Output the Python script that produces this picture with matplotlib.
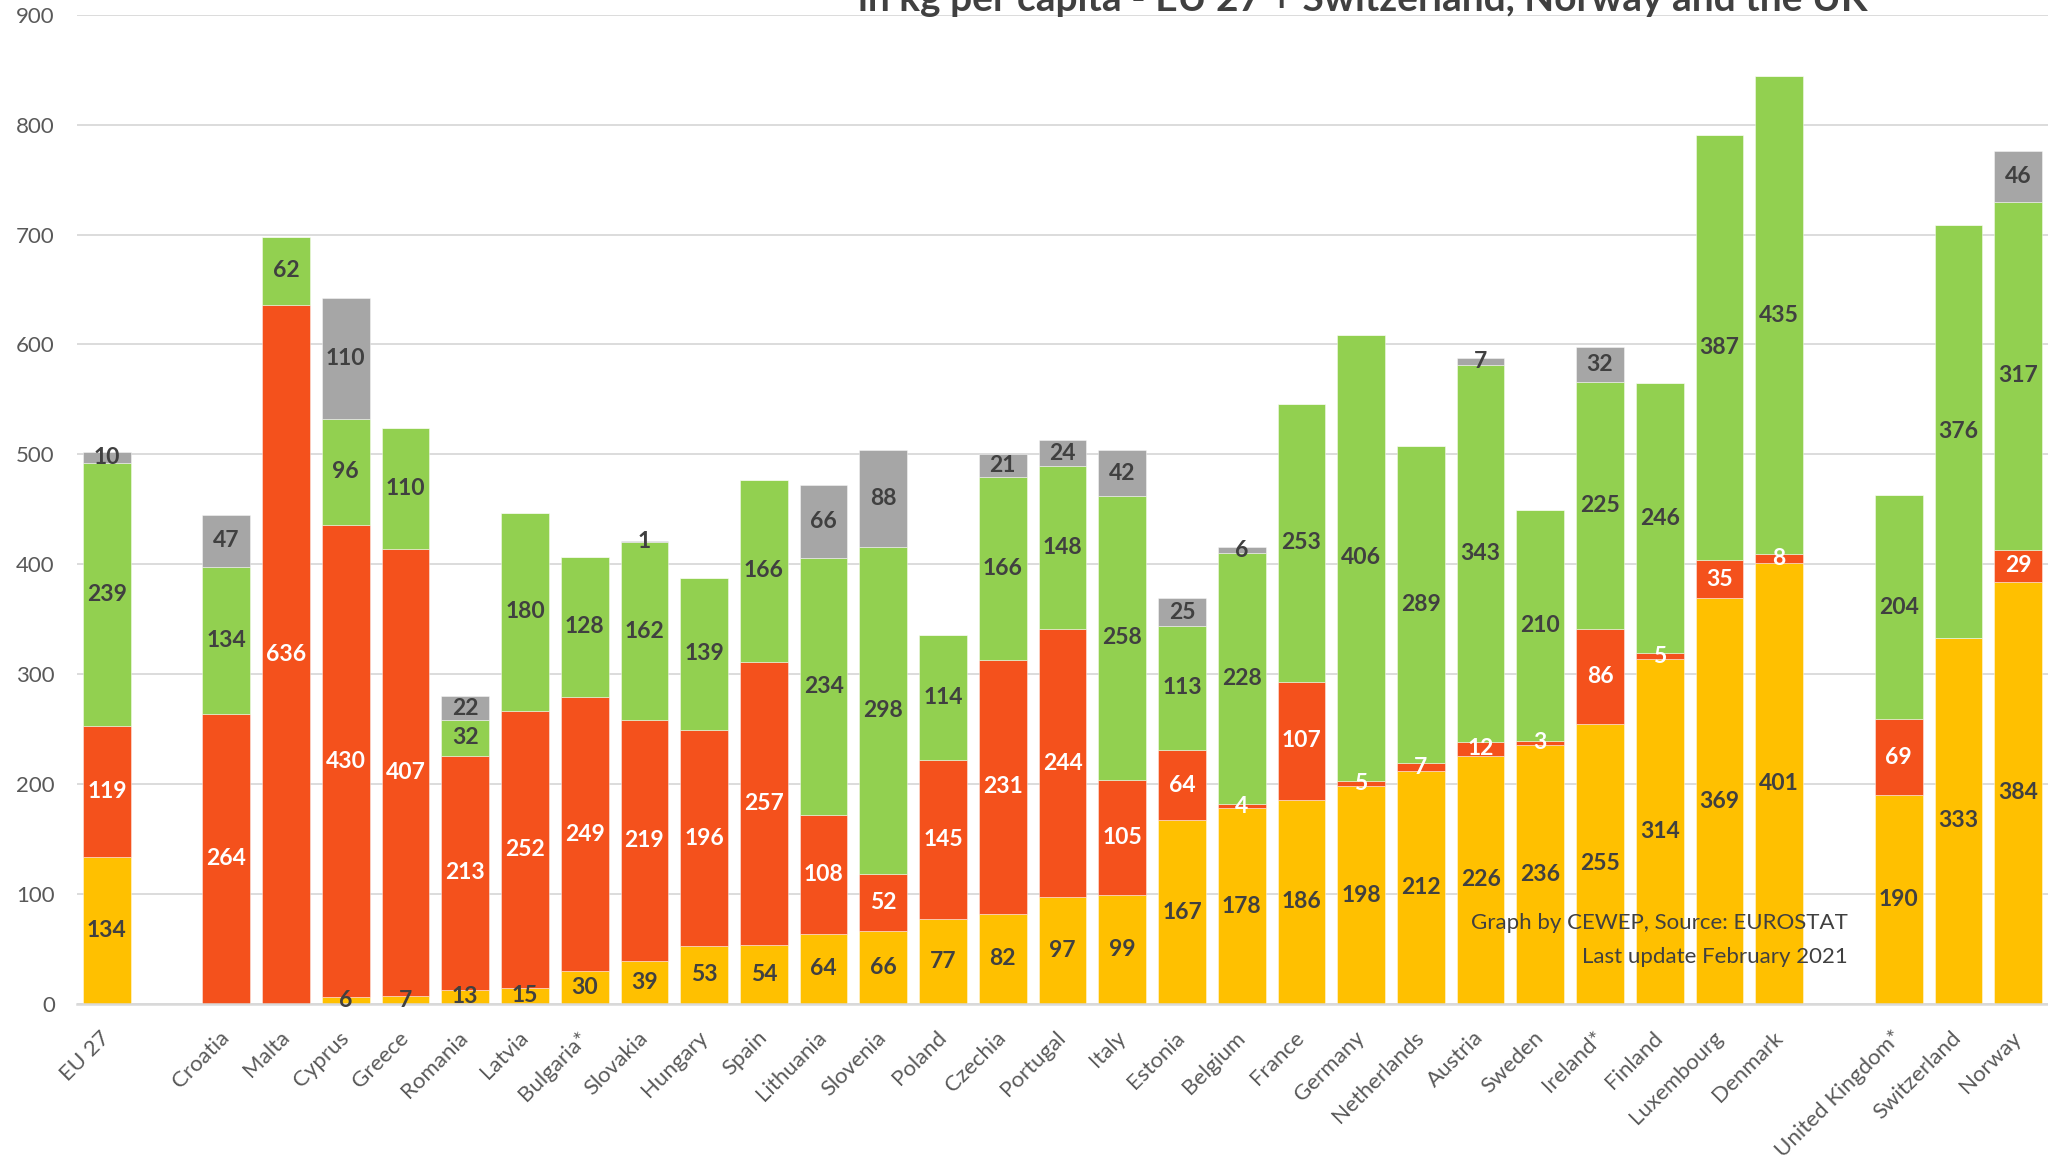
import numpy as np
import matplotlib
matplotlib.use("Agg")
import matplotlib.pyplot as plt

# municipal waste treatment, kg per capita (blank slots separate the groups)
countries = ["EU 27", "", "Croatia", "Malta", "Cyprus", "Greece", "Romania", "Latvia",
             "Bulgaria*", "Slovakia", "Hungary", "Spain", "Lithuania", "Slovenia", "Poland",
             "Czechia", "Portugal", "Italy", "Estonia", "Belgium", "France", "Germany",
             "Netherlands", "Austria", "Sweden", "Ireland*", "Finland", "Luxembourg",
             "Denmark", "", "United Kingdom*", "Switzerland", "Norway"]

recycled = [134, 0, 0, 0, 6, 7, 13, 15, 30, 39, 53, 54, 64, 66, 77, 82, 97, 99, 167, 178,
            186, 198, 212, 226, 236, 255, 314, 369, 401, 0, 190, 333, 384]
landfilled = [119, 0, 264, 636, 430, 407, 213, 252, 249, 219, 196, 257, 108, 52, 145, 231,
              244, 105, 64, 4, 107, 5, 7, 12, 3, 86, 5, 35, 8, 0, 69, 0, 29]
incinerated = [239, 0, 134, 62, 96, 110, 32, 180, 128, 162, 139, 166, 234, 298, 114, 166,
               148, 258, 113, 228, 253, 406, 289, 343, 210, 225, 246, 387, 435, 0, 204, 376, 317]
other = [10, 0, 47, 0, 110, 0, 22, 0, 0, 1, 0, 0, 66, 88, 0, 21, 24, 42, 25, 6, 0, 0, 0,
         7, 0, 32, 0, 0, 0, 0, 0, 0, 46]

series = [
    (recycled, "#FFC000", "#404040"),
    (landfilled, "#F4511C", "white"),
    (incinerated, "#92D050", "#404040"),
    (other, "#A6A6A6", "#404040"),
]

FONT = ["Lato", "DejaVu Sans"]
plt.rcParams["font.family"] = FONT

fig = plt.figure(figsize=(20.48, 11.6), dpi=100)
ax = fig.add_axes([77 / 2048, 156 / 1160, 1 - 77 / 2048, (1004 - 14.7) / 1160])

x = np.arange(len(countries))
bottom = np.zeros(len(countries))
for vals, color, txtcolor in series:
    vals = np.array(vals, dtype=float)
    ax.bar(x, vals, 0.8, bottom=bottom, color=color, edgecolor=(1, 1, 1, 0.5), linewidth=0.6, zorder=2)
    for xi, b, v in zip(x, bottom, vals):
        if v > 0:
            ax.text(xi, b + v / 2, f"{int(v)}", ha="center", va="center", color=txtcolor,
                    fontsize=16.5, fontweight="bold", zorder=3)
    bottom += vals

ax.set_xlim(-0.5, len(countries) - 0.5)
ax.set_ylim(0, 900)
ax.set_yticks(range(0, 901, 100))
ax.yaxis.grid(True, color="#D9D9D9", linewidth=1.3)
ax.set_axisbelow(True)
for s in ["top", "right", "left"]:
    ax.spines[s].set_visible(False)
ax.spines["bottom"].set_color("#D9D9D9")
ax.spines["bottom"].set_linewidth(1.8)
ax.tick_params(axis="both", length=0, labelsize=16, labelcolor="#595959")
ax.tick_params(axis="y", pad=16)
ax.set_xticks(x)
ax.set_xticklabels(countries, rotation=45, ha="right", va="center", rotation_mode="anchor")
ax.tick_params(axis="x", pad=22)

ax.text(0.8985, 0.082, "Graph by CEWEP, Source: EUROSTAT", transform=ax.transAxes,
        ha="right", va="center", fontsize=16, color="#404040")
ax.text(0.8985, 0.0476, "Last update February 2021", transform=ax.transAxes,
        ha="right", va="center", fontsize=16, color="#404040")

# title is cut off at the top of the picture
fig.text(1363 / 2048, 1 - 11 / 1160, "in kg per capita - EU 27 + Switzerland, Norway and the UK",
         ha="center", va="baseline", fontsize=28, fontweight="bold", color="#404040")

fig.savefig("out.png", dpi=100)
